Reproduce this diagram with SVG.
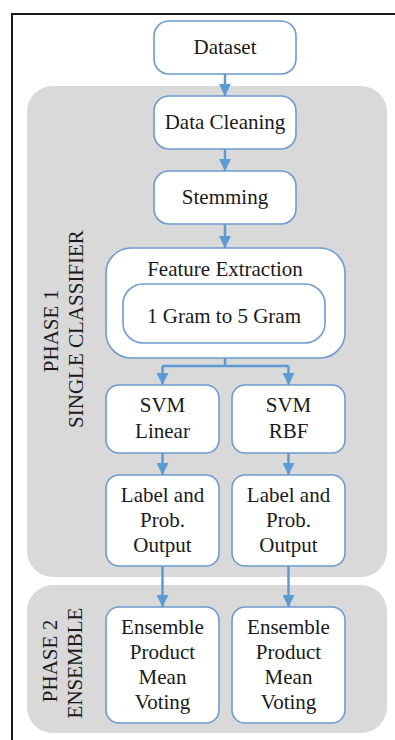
<svg xmlns="http://www.w3.org/2000/svg" width="395" height="740" viewBox="0 0 395 740">
  <style>
    .panel { fill: #d9d9d9; }
    .box { fill: #ffffff; stroke: #6b9bd0; stroke-width: 1.6; }
    .lbl { font-family: "Liberation Serif", "Times New Roman", serif; font-size: 21px; fill: #1a1a1a; text-anchor: middle; }
    .conn { fill: none; stroke: #5b9bd5; stroke-width: 2.5; }
  </style>
  <defs>
    <marker id="arrow" viewBox="0 0 12 12" refX="12" refY="6" markerWidth="12" markerHeight="12" markerUnits="userSpaceOnUse" orient="auto">
      <path d="M0,0 L12,6 L0,12 Z" fill="#5b9bd5"/>
    </marker>
  </defs>

  <rect width="395" height="740" fill="#ffffff"/>
  <!-- frame: top and left edges only -->
  <path d="M12,740 L12,14 L395,14" fill="none" stroke="#1a1a1a" stroke-width="2"/>

  <!-- phase panels -->
  <g id="phase1">
    <rect class="panel" x="27" y="86" width="360" height="491" rx="26"/>
    <text class="lbl" transform="translate(58,331) rotate(-90)">PHASE 1</text>
    <text class="lbl" transform="translate(83,329) rotate(-90)">SINGLE CLASSIFIER</text>
  </g>
  <g id="phase2">
    <rect class="panel" x="27" y="585" width="360" height="148" rx="26"/>
    <text class="lbl" transform="translate(57,661) rotate(-90)">PHASE 2</text>
    <text class="lbl" transform="translate(82,663) rotate(-90)">ENSEMBLE</text>
  </g>

  <!-- connectors -->
  <g id="connectors">
    <line class="conn" x1="225" y1="74" x2="225" y2="96" marker-end="url(#arrow)"/>
    <line class="conn" x1="225" y1="149" x2="225" y2="171" marker-end="url(#arrow)"/>
    <line class="conn" x1="225" y1="224" x2="225" y2="248" marker-end="url(#arrow)"/>
    <path class="conn" d="M225,358 V366 M162.5,366 H288.5"/>
    <line class="conn" x1="162.5" y1="366" x2="162.5" y2="385" marker-end="url(#arrow)"/>
    <line class="conn" x1="288.5" y1="366" x2="288.5" y2="385" marker-end="url(#arrow)"/>
    <line class="conn" x1="162.5" y1="453" x2="162.5" y2="475" marker-end="url(#arrow)"/>
    <line class="conn" x1="288.5" y1="453" x2="288.5" y2="475" marker-end="url(#arrow)"/>
    <line class="conn" x1="162.5" y1="566" x2="162.5" y2="607" marker-end="url(#arrow)"/>
    <line class="conn" x1="288.5" y1="566" x2="288.5" y2="607" marker-end="url(#arrow)"/>
  </g>

  <!-- nodes -->
  <g id="dataset">
    <rect class="box" x="154" y="21" width="142" height="53" rx="15"/>
    <text class="lbl" x="225" y="54">Dataset</text>
  </g>
  <g id="data-cleaning">
    <rect class="box" x="154" y="96" width="142" height="53" rx="15"/>
    <text class="lbl" x="225" y="129">Data Cleaning</text>
  </g>
  <g id="stemming">
    <rect class="box" x="154" y="171" width="142" height="53" rx="15"/>
    <text class="lbl" x="225" y="204">Stemming</text>
  </g>
  <g id="feature-extraction">
    <rect class="box" x="106" y="248" width="239" height="110" rx="25"/>
    <text class="lbl" x="225" y="276">Feature Extraction</text>
    <rect class="box" x="123" y="284" width="202" height="59" rx="20"/>
    <text class="lbl" x="224" y="323">1 Gram to 5 Gram</text>
  </g>
  <g id="svm-linear">
    <rect class="box" x="106" y="385" width="113" height="68" rx="13"/>
    <text class="lbl" x="162.5" y="412">SVM</text>
    <text class="lbl" x="162.5" y="438">Linear</text>
  </g>
  <g id="svm-rbf">
    <rect class="box" x="232" y="385" width="113" height="68" rx="13"/>
    <text class="lbl" x="288.5" y="412">SVM</text>
    <text class="lbl" x="288.5" y="438">RBF</text>
  </g>
  <g id="output-linear">
    <rect class="box" x="106" y="475" width="113" height="91" rx="13"/>
    <text class="lbl" x="162.5" y="502">Label and</text>
    <text class="lbl" x="162.5" y="527">Prob.</text>
    <text class="lbl" x="162.5" y="552">Output</text>
  </g>
  <g id="output-rbf">
    <rect class="box" x="232" y="475" width="113" height="91" rx="13"/>
    <text class="lbl" x="288.5" y="502">Label and</text>
    <text class="lbl" x="288.5" y="527">Prob.</text>
    <text class="lbl" x="288.5" y="552">Output</text>
  </g>
  <g id="ensemble-left">
    <rect class="box" x="106" y="607" width="113" height="116" rx="13"/>
    <text class="lbl" x="162.5" y="634">Ensemble</text>
    <text class="lbl" x="162.5" y="659">Product</text>
    <text class="lbl" x="162.5" y="684">Mean</text>
    <text class="lbl" x="162.5" y="709">Voting</text>
  </g>
  <g id="ensemble-right">
    <rect class="box" x="232" y="607" width="113" height="116" rx="13"/>
    <text class="lbl" x="288.5" y="634">Ensemble</text>
    <text class="lbl" x="288.5" y="659">Product</text>
    <text class="lbl" x="288.5" y="684">Mean</text>
    <text class="lbl" x="288.5" y="709">Voting</text>
  </g>
</svg>
